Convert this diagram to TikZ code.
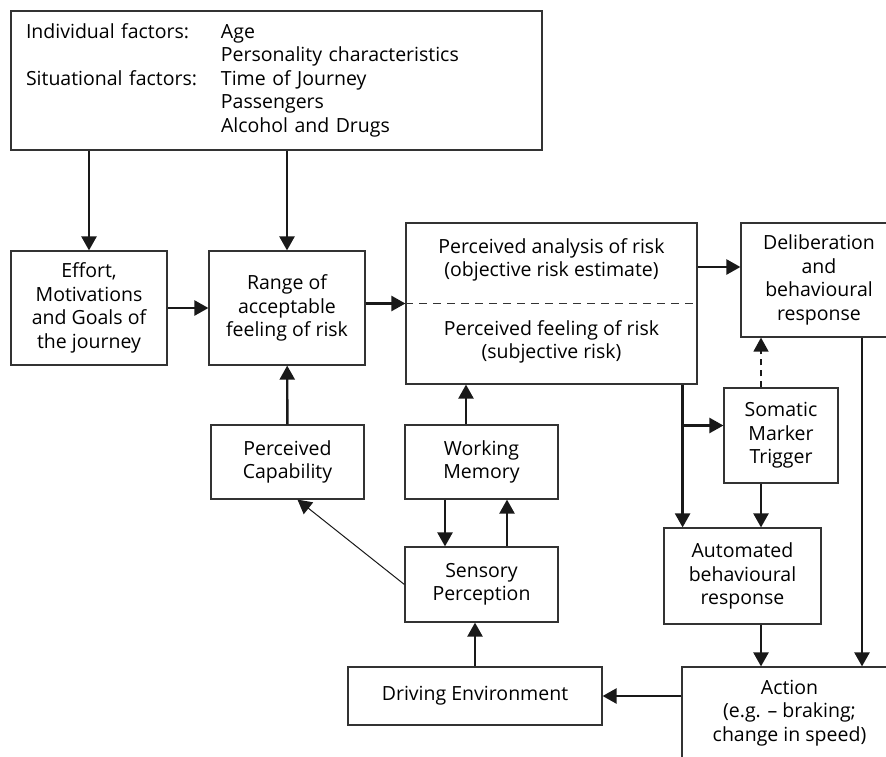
\documentclass[tikz,border=0pt]{standalone}
\usepackage{fontspec}
\setmainfont{Open Sans}
\usetikzlibrary{positioning,arrows.meta}

\begin{document}
\begin{tikzpicture}[x=1pt, y=-1pt, >={Triangle[length=14pt,width=15pt]},
    box/.style={draw=black!80, line width=1.2pt, align=center, inner sep=0pt, font=\fontsize{19.5}{23.5}\selectfont},
    link/.style={->, line width=2.4pt, black!90}]
  \useasboundingbox (0,0) rectangle (886,756);
  % boxes
  \node [box, minimum width=531pt, minimum height=139pt, text width=501pt, align=left] (factors) at (276.5,80.5)
    {\begin{tabular}{@{}p{195pt}@{}l@{}}
      Individual factors: & Age\\
       & Personality characteristics\\
      Situational factors: & Time of Journey\\
       & Passengers\\
       & Alcohol and Drugs
    \end{tabular}};
  \node [box, minimum width=156pt, minimum height=114pt] (effort) at (89,308) {Effort,\\Motivations\\and Goals of\\the journey};
  \node [box, minimum width=156pt, minimum height=114pt] (range) at (287,308) {Range of\\acceptable\\feeling of risk};
  \node [box, minimum width=291pt, minimum height=161pt] (perceived) at (551.5,303.5) {};
  \node [box, draw=none] (analysis) at (551.5,260) {Perceived analysis of risk\\(objective risk estimate)};
  \node [box, draw=none] (feeling) at (551.5,342) {Perceived feeling of risk\\(subjective risk)};
  \node [box, minimum width=156pt, minimum height=114pt] (deliberation) at (819,280) {Deliberation\\and\\behavioural\\response};
  \node [box, minimum width=153pt, minimum height=74pt] (capability) at (287.5,462) {Perceived\\Capability};
  \node [box, minimum width=153pt, minimum height=74pt] (memory) at (481.5,462) {Working\\Memory};
  \node [box, minimum width=153pt, minimum height=75pt] (sensory) at (481.5,584.5) {Sensory\\Perception};
  \node [box, minimum width=114pt, minimum height=95pt] (somatic) at (781,435.5) {Somatic\\Marker\\Trigger};
  \node [box, minimum width=157pt, minimum height=96pt] (automated) at (742.5,576) {Automated\\behavioural\\response};
  \node [box, minimum width=254pt, minimum height=58pt] (driving) at (475,696) {Driving Environment};
  \node [box, minimum width=215pt, minimum height=92pt] (action) at (789.5,713) {Action\\(e.g. -- braking;\\change in speed)};
  \draw [black!80, line width=1.2pt, dash pattern=on 8pt off 6pt] (perceived.west) -- (perceived.east);
  % helper points
  \coordinate (tap) at ([xshift=-15pt]perceived.south east);
  \coordinate (trig) at ([xshift=-20pt]somatic.north);
  \coordinate (delibin) at ([yshift=13pt]deliberation.west);
  \coordinate (delibout) at ([xshift=43pt]deliberation.south);
  \coordinate (somin) at ([yshift=10pt]somatic.west);
  \coordinate (memout) at ([xshift=-15.5pt]memory.north);
  % connectors
  \draw [link] (factors.south -| effort) -- (effort);
  \draw [link] (factors.south -| range) -- (range);
  \draw [link] (effort) -- (range);
  \draw [link] (range.east |- perceived.west) -- (perceived.west);
  \draw [link] (delibin -| perceived.east) -- (delibin);
  \draw [link] (tap) -- (tap |- automated.north);
  \draw [link] (somin -| tap) -- (somin);
  \draw [link, line width=1.5pt, dash pattern=on 6pt off 5pt] (trig) -- (trig |- deliberation.south);
  \draw [link] (trig |- somatic.south) -- (trig |- automated.north);
  \draw [link] (trig |- automated.south) -- (trig |- action.north);
  \draw [link] (delibout) -- (delibout |- action.north);
  \draw [link] (action.west |- driving) -- (driving.east);
  \draw [link] (driving.north) -- (driving.north |- sensory.south);
  \draw [link] ([xshift=-36.5pt]memory.south) -- ([xshift=-36.5pt]sensory.north);
  \draw [link] ([xshift=25.5pt]sensory.north) -- ([xshift=25.5pt]memory.south);
  \draw [link] (memout) -- (memout |- perceived.south);
  \draw [link] (capability) -- (range);
  \draw [->, line width=1pt, black!90] (sensory.west) -- ([xshift=10pt]capability.south);
\end{tikzpicture}
\end{document}
